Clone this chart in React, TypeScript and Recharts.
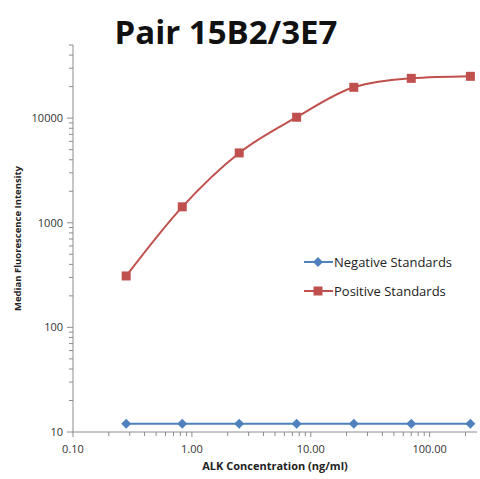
import { Line, LineChart, XAxis, YAxis, Label } from "recharts";

const concentrations = [0.28, 0.83, 2.5, 7.6, 23, 70, 220];
const negativeValues = [12, 12, 12, 12, 12, 12, 12];
const positiveValues = [310, 1420, 4650, 10200, 19700, 24000, 25100];
const xMajorTicks = [0.1, 1, 10, 100];
const xTickLabels = ["0.10", "1.00", "10.00", "100.00"];
const yMajorTicks = [10, 100, 1000, 10000];
const yTickLabels = ["10", "100", "1000", "10000"];

const NEG = "#4F81BD";
const POS = "#C0504D";
const AXIS = "#8c8c8c";
const FONT = "'Open Sans', sans-serif";

const data = concentrations.map((c, i) => ({
  conc: c,
  negative: negativeValues[i],
  positive: positiveValues[i],
}));

// log minor ticks (2..9 of each decade) inside the domain
function logTicks(majors: number[], max: number) {
  const out: number[] = [];
  for (const m of majors) {
    for (let k = 1; k < 10; k++) {
      const v = m * k;
      if (v <= max) out.push(Number(v.toPrecision(3)));
    }
  }
  return out;
}

const xTicks = logTicks(xMajorTicks, 250);
const yTicks = logTicks(yMajorTicks, 50000);

function XTick({ x, y, payload }: any) {
  const i = xMajorTicks.findIndex((m) => Math.abs(m - payload.value) / m < 1e-6);
  const major = i >= 0;
  return (
    <g>
      <line x1={x} x2={x} y1={y} y2={y + (major ? 5 : 4)} stroke={AXIS} />
      {major && (
        <text x={x} y={y + 21} textAnchor="middle" fontSize={11} fill="#333" fontFamily={FONT}>
          {xTickLabels[i]}
        </text>
      )}
    </g>
  );
}

function YTick({ x, y, payload }: any) {
  const i = yMajorTicks.findIndex((m) => Math.abs(m - payload.value) / m < 1e-6);
  const major = i >= 0;
  return (
    <g>
      <line x1={x - (major ? 6 : 4)} x2={x} y1={y} y2={y} stroke={AXIS} />
      {major && (
        <text x={x - 10} y={y + 4} textAnchor="end" fontSize={11} fill="#333" fontFamily={FONT}>
          {yTickLabels[i]}
        </text>
      )}
    </g>
  );
}

function Diamond({ cx, cy }: any) {
  if (cx == null || cy == null) return null;
  return <path d={`M${cx},${cy - 5}L${cx + 5},${cy}L${cx},${cy + 5}L${cx - 5},${cy}Z`} fill={NEG} />;
}

function Square({ cx, cy }: any) {
  if (cx == null || cy == null) return null;
  return <rect x={cx - 4.5} y={cy - 4.5} width={9} height={9} fill={POS} />;
}

function YTitle({ viewBox }: any) {
  const cy = viewBox.y + viewBox.height / 2;
  return (
    <text
      x={21}
      y={cy}
      transform={`rotate(-90 21 ${cy})`}
      textAnchor="middle"
      fontFamily={FONT}
      fontSize={9.5}
      fontWeight={700}
      fill="#222"
    >
      Median Fluorescence Intensity
    </text>
  );
}

function LegendBox() {
  const items = [
    { name: "Negative Standards", color: NEG, marker: "diamond" },
    { name: "Positive Standards", color: POS, marker: "square" },
  ];
  return (
    <div style={{ position: "absolute", left: 304, top: 247, fontFamily: FONT, fontSize: 13, color: "#222" }}>
      {items.map((it) => (
        <div key={it.name} style={{ display: "flex", alignItems: "center", height: 29 }}>
          <svg width={30} height={12} style={{ marginRight: 0 }}>
            <line x1={0} x2={29} y1={6} y2={6} stroke={it.color} strokeWidth={2} />
            {it.marker === "diamond" ? (
              <path d="M14,1L19,6L14,11L9,6Z" fill={it.color} />
            ) : (
              <rect x={9.5} y={1.5} width={9} height={9} fill={it.color} />
            )}
          </svg>
          <span>{it.name}</span>
        </div>
      ))}
    </div>
  );
}

export default function App() {
  return (
    <div style={{ position: "absolute", left: 0, top: 0, width: 480, height: 479, background: "#fff" }}>
      <div
        style={{
          position: "absolute",
          left: 0,
          width: 452,
          top: 9,
          textAlign: "center",
          fontFamily: FONT,
          fontWeight: 700,
          fontSize: 33,
          color: "#111",
        }}
      >
        Pair 15B2/3E7
      </div>
      <LineChart width={480} height={479} data={data} margin={{ top: 45, right: 3, bottom: 0, left: 0 }}>
        <XAxis
          dataKey="conc"
          type="number"
          scale="log"
          domain={[0.1, 250]}
          allowDataOverflow
          ticks={xTicks}
          interval={0}
          tick={<XTick />}
          tickSize={0}
          tickMargin={0}
          height={47}
          stroke={AXIS}
        >
          <Label
            value="ALK Concentration  (ng/ml)"
            position="insideBottom"
            offset={9}
            style={{ fontFamily: FONT, fontSize: 11, fontWeight: 700, fill: "#222" }}
          />
        </XAxis>
        <YAxis
          type="number"
          scale="log"
          domain={[10, 50000]}
          allowDataOverflow
          ticks={yTicks}
          interval={0}
          tick={<YTick />}
          tickSize={0}
          tickMargin={0}
          width={73}
          stroke={AXIS}
        >
          <Label content={<YTitle />} />
        </YAxis>
        <Line
          dataKey="negative"
          type="monotone"
          stroke={NEG}
          strokeWidth={2}
          dot={<Diamond />}
          isAnimationActive={false}
        />
        <Line
          dataKey="positive"
          type="monotone"
          stroke={POS}
          strokeWidth={2}
          dot={<Square />}
          isAnimationActive={false}
        />
      </LineChart>
      <LegendBox />
    </div>
  );
}
